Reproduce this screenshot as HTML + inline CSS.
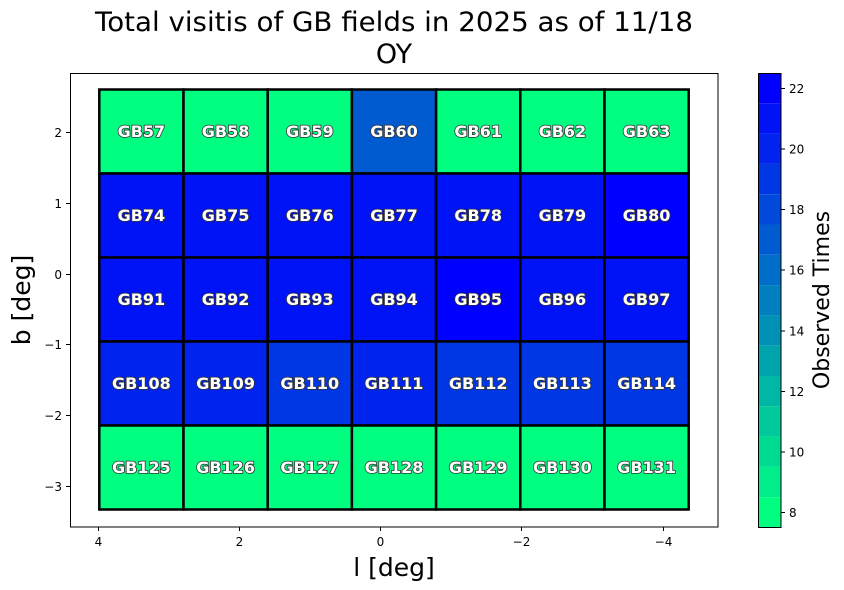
<!DOCTYPE html>
<html><head><meta charset="utf-8"><style>
html,body{margin:0;padding:0;background:#fff;}
svg{display:block;font-family:"DejaVu Sans","Liberation Sans",sans-serif;}
.lbl{font-weight:bold;font-size:16px;fill:#fff;stroke:#333;stroke-width:1.6px;paint-order:stroke;text-anchor:middle;dominant-baseline:central;}
.tk{font-size:12px;fill:#000;}
</style></head><body>
<svg width="844" height="590" viewBox="0 0 844 590" xmlns="http://www.w3.org/2000/svg">
<rect width="844" height="590" fill="#fff"/>
<text x="394" y="31" font-size="27" text-anchor="middle" fill="#000" textLength="598" lengthAdjust="spacingAndGlyphs">Total visitis of GB fields in 2025 as of 11/18</text>
<text x="394" y="63" font-size="27" text-anchor="middle" fill="#000">OY</text>
<g id="cells" stroke="#000" stroke-width="2.5">
<rect x="99.3" y="89.5" width="84.2" height="84" fill="#00ff80"/>
<rect x="183.5" y="89.5" width="84.2" height="84" fill="#00ff80"/>
<rect x="267.7" y="89.5" width="84.2" height="84" fill="#00ff80"/>
<rect x="351.9" y="89.5" width="84.2" height="84" fill="#005bd1"/>
<rect x="436.1" y="89.5" width="84.2" height="84" fill="#00ff80"/>
<rect x="520.3" y="89.5" width="84.2" height="84" fill="#00ff80"/>
<rect x="604.5" y="89.5" width="84.2" height="84" fill="#00ff80"/>
<rect x="99.3" y="173.5" width="84.2" height="84" fill="#0012f6"/>
<rect x="183.5" y="173.5" width="84.2" height="84" fill="#0012f6"/>
<rect x="267.7" y="173.5" width="84.2" height="84" fill="#0012f6"/>
<rect x="351.9" y="173.5" width="84.2" height="84" fill="#0012f6"/>
<rect x="436.1" y="173.5" width="84.2" height="84" fill="#0012f6"/>
<rect x="520.3" y="173.5" width="84.2" height="84" fill="#0012f6"/>
<rect x="604.5" y="173.5" width="84.2" height="84" fill="#0000ff"/>
<rect x="99.3" y="257.5" width="84.2" height="84" fill="#0012f6"/>
<rect x="183.5" y="257.5" width="84.2" height="84" fill="#0012f6"/>
<rect x="267.7" y="257.5" width="84.2" height="84" fill="#0012f6"/>
<rect x="351.9" y="257.5" width="84.2" height="84" fill="#0012f6"/>
<rect x="436.1" y="257.5" width="84.2" height="84" fill="#0000ff"/>
<rect x="520.3" y="257.5" width="84.2" height="84" fill="#0012f6"/>
<rect x="604.5" y="257.5" width="84.2" height="84" fill="#0012f6"/>
<rect x="99.3" y="341.5" width="84.2" height="84" fill="#0024ed"/>
<rect x="183.5" y="341.5" width="84.2" height="84" fill="#0024ed"/>
<rect x="267.7" y="341.5" width="84.2" height="84" fill="#0037e4"/>
<rect x="351.9" y="341.5" width="84.2" height="84" fill="#0024ed"/>
<rect x="436.1" y="341.5" width="84.2" height="84" fill="#0037e4"/>
<rect x="520.3" y="341.5" width="84.2" height="84" fill="#0037e4"/>
<rect x="604.5" y="341.5" width="84.2" height="84" fill="#0037e4"/>
<rect x="99.3" y="425.5" width="84.2" height="84" fill="#00ff80"/>
<rect x="183.5" y="425.5" width="84.2" height="84" fill="#00ff80"/>
<rect x="267.7" y="425.5" width="84.2" height="84" fill="#00ff80"/>
<rect x="351.9" y="425.5" width="84.2" height="84" fill="#00ff80"/>
<rect x="436.1" y="425.5" width="84.2" height="84" fill="#00ff80"/>
<rect x="520.3" y="425.5" width="84.2" height="84" fill="#00ff80"/>
<rect x="604.5" y="425.5" width="84.2" height="84" fill="#00ff80"/>
</g>
<g>
<text class="lbl" x="141.4" y="131.5">GB57</text><text class="lbl" x="225.6" y="131.5">GB58</text><text class="lbl" x="309.8" y="131.5">GB59</text><text class="lbl" x="394" y="131.5">GB60</text><text class="lbl" x="478.2" y="131.5">GB61</text><text class="lbl" x="562.4" y="131.5">GB62</text><text class="lbl" x="646.6" y="131.5">GB63</text>
<text class="lbl" x="141.4" y="215.5">GB74</text><text class="lbl" x="225.6" y="215.5">GB75</text><text class="lbl" x="309.8" y="215.5">GB76</text><text class="lbl" x="394" y="215.5">GB77</text><text class="lbl" x="478.2" y="215.5">GB78</text><text class="lbl" x="562.4" y="215.5">GB79</text><text class="lbl" x="646.6" y="215.5">GB80</text>
<text class="lbl" x="141.4" y="299.5">GB91</text><text class="lbl" x="225.6" y="299.5">GB92</text><text class="lbl" x="309.8" y="299.5">GB93</text><text class="lbl" x="394" y="299.5">GB94</text><text class="lbl" x="478.2" y="299.5">GB95</text><text class="lbl" x="562.4" y="299.5">GB96</text><text class="lbl" x="646.6" y="299.5">GB97</text>
<text class="lbl" x="141.4" y="383.5">GB108</text><text class="lbl" x="225.6" y="383.5">GB109</text><text class="lbl" x="309.8" y="383.5">GB110</text><text class="lbl" x="394" y="383.5">GB111</text><text class="lbl" x="478.2" y="383.5">GB112</text><text class="lbl" x="562.4" y="383.5">GB113</text><text class="lbl" x="646.6" y="383.5">GB114</text>
<text class="lbl" x="141.4" y="467.5">GB125</text><text class="lbl" x="225.6" y="467.5">GB126</text><text class="lbl" x="309.8" y="467.5">GB127</text><text class="lbl" x="394" y="467.5">GB128</text><text class="lbl" x="478.2" y="467.5">GB129</text><text class="lbl" x="562.4" y="467.5">GB130</text><text class="lbl" x="646.6" y="467.5">GB131</text>
</g>
<rect x="70.5" y="73.5" width="647.5" height="453.5" fill="none" stroke="#000" stroke-width="1"/>
<g stroke="#000" stroke-width="1">
<line x1="98.5" y1="527" x2="98.5" y2="531"/><line x1="239.5" y1="527" x2="239.5" y2="531"/><line x1="380.5" y1="527" x2="380.5" y2="531"/><line x1="521.5" y1="527" x2="521.5" y2="531"/><line x1="663.5" y1="527" x2="663.5" y2="531"/>
<line x1="66" y1="132.5" x2="70" y2="132.5"/><line x1="66" y1="203.5" x2="70" y2="203.5"/><line x1="66" y1="274.5" x2="70" y2="274.5"/><line x1="66" y1="344.5" x2="70" y2="344.5"/><line x1="66" y1="415.5" x2="70" y2="415.5"/><line x1="66" y1="486.5" x2="70" y2="486.5"/>
</g>
<g class="tk" text-anchor="middle">
<text x="98.5" y="546">4</text><text x="239.5" y="546">2</text><text x="380.5" y="546">0</text><text x="521.5" y="546">−2</text><text x="663.5" y="546">−4</text>
</g>
<g class="tk" text-anchor="end">
<text x="62" y="137">2</text><text x="62" y="208">1</text><text x="62" y="279">0</text><text x="62" y="349">−1</text><text x="62" y="420">−2</text><text x="62" y="491">−3</text>
</g>
<text x="394" y="576" font-size="25" text-anchor="middle">l [deg]</text>
<text transform="translate(30,300) rotate(-90)" font-size="25" text-anchor="middle">b [deg]</text>
<g>
<rect x="758" y="73" width="23" height="30.3" fill="#0000ff"/>
<rect x="758" y="103.3" width="23" height="30.3" fill="#0012f6"/>
<rect x="758" y="133.6" width="23" height="30.3" fill="#0024ed"/>
<rect x="758" y="163.9" width="23" height="30.3" fill="#0037e4"/>
<rect x="758" y="194.2" width="23" height="30.3" fill="#0049db"/>
<rect x="758" y="224.5" width="23" height="30.3" fill="#005bd1"/>
<rect x="758" y="254.8" width="23" height="30.3" fill="#006dc8"/>
<rect x="758" y="285.1" width="23" height="30.3" fill="#0080bf"/>
<rect x="758" y="315.4" width="23" height="30.3" fill="#0092b6"/>
<rect x="758" y="345.7" width="23" height="30.3" fill="#00a4ad"/>
<rect x="758" y="376" width="23" height="30.3" fill="#00b6a4"/>
<rect x="758" y="406.3" width="23" height="30.3" fill="#00c99b"/>
<rect x="758" y="436.6" width="23" height="30.3" fill="#00db92"/>
<rect x="758" y="466.9" width="23" height="30.3" fill="#00ed89"/>
<rect x="758" y="497.2" width="23" height="30.3" fill="#00ff80"/>
<rect x="758.5" y="73.5" width="22.5" height="454" fill="none" stroke="#000" stroke-width="1"/>
</g>
<g stroke="#000" stroke-width="1">
<line x1="781" y1="88.5" x2="785" y2="88.5"/><line x1="781" y1="149" x2="785" y2="149"/><line x1="781" y1="209.5" x2="785" y2="209.5"/><line x1="781" y1="270" x2="785" y2="270"/><line x1="781" y1="331" x2="785" y2="331"/><line x1="781" y1="391.5" x2="785" y2="391.5"/><line x1="781" y1="452" x2="785" y2="452"/><line x1="781" y1="512.5" x2="785" y2="512.5"/>
</g>
<g class="tk">
<text x="789" y="93">22</text><text x="789" y="153.5">20</text><text x="789" y="214">18</text><text x="789" y="274.5">16</text><text x="789" y="335.5">14</text><text x="789" y="396">12</text><text x="789" y="456.5">10</text><text x="789" y="517">8</text>
</g>
<text transform="translate(829,300) rotate(-90)" font-size="22" text-anchor="middle">Observed Times</text>
</svg>
</body></html>
